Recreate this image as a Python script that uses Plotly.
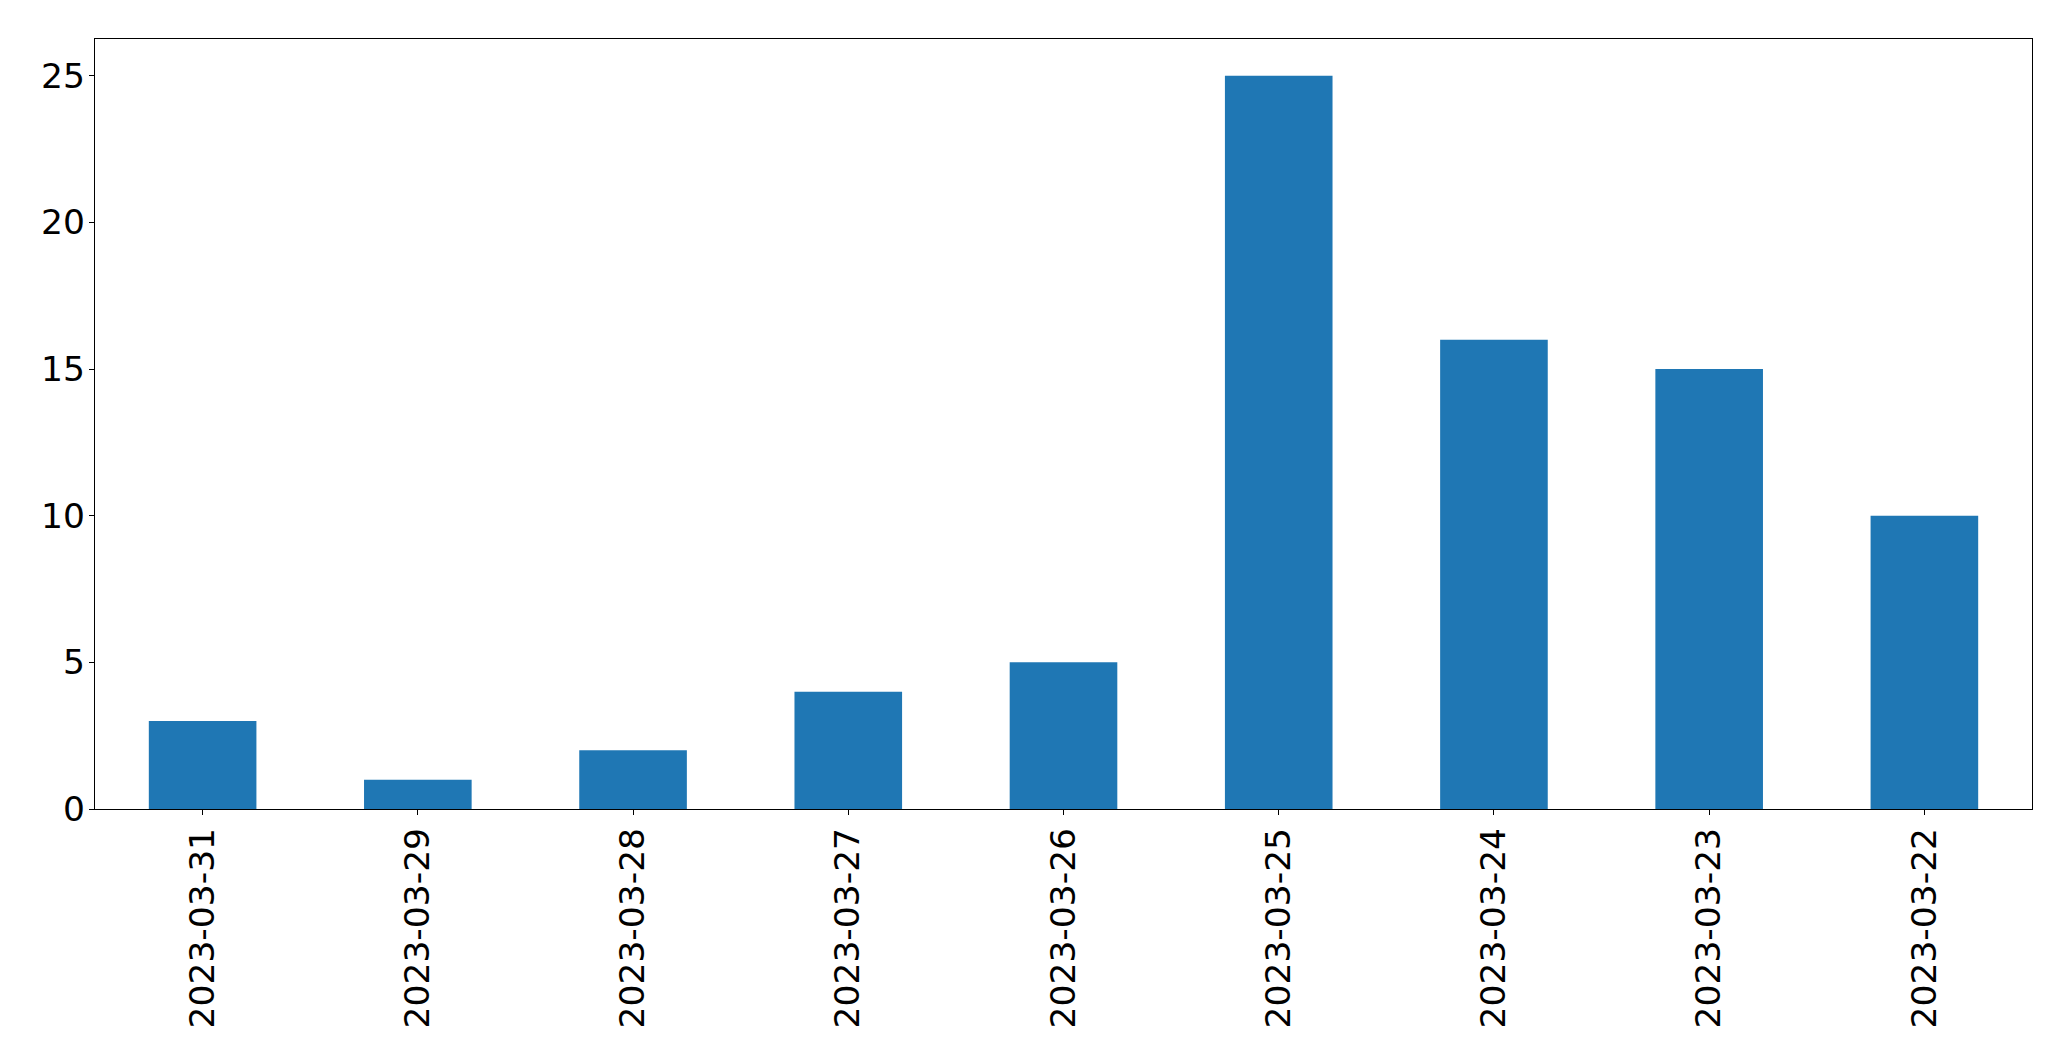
import plotly.graph_objects as go

dates = ["2023-03-31", "2023-03-29", "2023-03-28", "2023-03-27", "2023-03-26",
         "2023-03-25", "2023-03-24", "2023-03-23", "2023-03-22"]
counts = [3, 1, 2, 4, 5, 25, 16, 15, 10]
y_ticks = [0, 5, 10, 15, 20, 25]

fig = go.Figure(go.Bar(x=dates, y=counts, width=0.5, marker=dict(color="#1f77b4", line=dict(width=0))))

font = dict(family="DejaVu Sans", size=34.5, color="black")
# page body has an 8px margin, so the figure is sized to fit inside it
fig.update_layout(
    width=2055, height=1045,
    margin=dict(l=87, r=31, t=31, b=244, autoexpand=False),
    paper_bgcolor="white", plot_bgcolor="white",
    showlegend=False,
    font=font,
)
fig.update_xaxes(
    type="category", range=[-0.5, 8.5], automargin=False,
    showline=True, linecolor="black", linewidth=1.3, mirror=True,
    ticks="outside", ticklen=5, tickwidth=1.3, tickcolor="black",
    tickangle=-90, showgrid=False, tickfont=font, ticklabelstandoff=-1,
)
fig.update_yaxes(
    range=[0, 26.25], tickvals=y_ticks, automargin=False,
    showline=True, linecolor="black", linewidth=1.3, mirror=True,
    ticks="outside", ticklen=5, tickwidth=1.3, tickcolor="black",
    showgrid=False, zeroline=False, tickfont=font, ticklabelstandoff=-3,
)
fig.write_html("out.html")
